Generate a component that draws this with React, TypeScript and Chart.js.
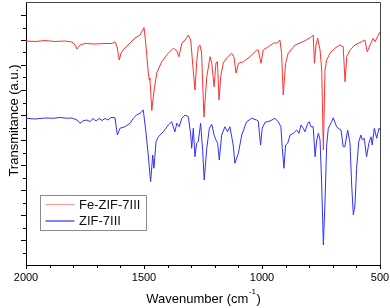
import React, { useEffect, useRef } from "react";
import { Chart, registerables } from "chart.js";

Chart.register(...registerables);

// ---- data ----
const seriesLabels = ["Fe-ZIF-7III", "ZIF-7III"];
const seriesColors = ["#ff3030", "#3030ff"];
const legendLineColors = ["#f4a0a0", "#3030ff"];

const feWn = [2000,1962,1920,1877,1835,1805,1792,1784,1771,1750,1708,1665,1636,1623,1614,1605,1597,1585,1559,1538,1517,1500,1494,1489,1483,1478,1475,1467,1462,1458,1446,1425,1397,1376,1361,1352,1340,1326,1312,1302,1294,1284,1277,1270,1263,1256,1246,1234,1220,1213,1203,1195,1189,1182,1175,1164,1150,1129,1119,1110,1100,1079,1051,1023,1016,1004,995,973,952,934,924,917,910,900,889,860,818,790,783,778,771,764,754,747,740,733,726,712,691,670,656,648,641,627,606,578,564,554,542,529,521,507,500];
const feT = [8.96,8.94,8.98,8.94,8.96,8.92,8.8,8.64,8.8,8.86,8.84,8.86,8.86,8.93,8.72,8.2,8.48,8.64,8.88,9.08,9.2,9.5,9.0,8.48,7.8,7.4,7.48,6.18,6.6,6.93,7.68,8.13,8.47,8.67,8.57,8.33,8.87,9.0,9.2,9.0,8.08,7.0,8.08,8.73,8.8,8.48,5.92,7.53,8.33,8.08,7.13,8.08,8.13,6.6,7.53,8.08,8.28,8.47,8.33,7.68,8.07,8.13,8.33,8.6,8.6,8.07,8.6,8.73,8.87,8.89,9.0,8.47,6.8,8.07,8.47,8.8,8.97,9.13,9.2,8.07,8.8,9.07,8.6,7.8,4.6,7.8,8.2,8.47,8.67,8.8,8.73,7.33,8.33,8.6,8.8,8.93,9.0,8.53,8.8,9.07,8.93,9.2,9.33];

const zifWn = [2000,1962,1920,1884,1856,1828,1805,1784,1771,1759,1743,1729,1716,1703,1691,1678,1665,1653,1640,1623,1613,1602,1581,1559,1545,1531,1517,1503,1492,1482,1472,1463,1458,1449,1439,1418,1397,1383,1369,1361,1351,1340,1326,1312,1302,1298,1291,1284,1277,1270,1260,1251,1245,1234,1223,1213,1203,1195,1188,1181,1171,1157,1146,1136,1122,1115,1100,1086,1065,1044,1023,1016,1006,999,987,966,945,931,920,914,907,900,891,881,867,853,843,835,825,818,806,800,792,783,775,768,761,754,747,740,733,726,719,705,698,684,677,665,656,649,637,627,620,613,606,599,590,581,575,567,557,547,538,533,524,514,504,500];
const zifT = [5.87,5.84,5.88,5.87,5.9,5.87,5.88,5.8,5.67,5.76,5.8,5.74,5.86,5.76,5.86,5.78,5.86,5.8,5.9,5.89,5.2,5.47,5.53,5.67,5.87,6.0,6.07,6.2,5.33,4.4,3.33,4.4,3.87,4.93,5.13,5.33,5.6,5.73,5.33,5.67,5.53,5.87,6.0,5.93,5.2,4.67,5.47,4.33,4.87,4.93,5.67,4.53,3.4,4.67,5.47,5.63,5.2,5.0,4.87,4.2,5.2,5.53,5.33,5.53,4.8,4.07,4.47,5.2,5.73,5.87,5.8,5.76,4.8,5.47,5.71,5.76,5.87,5.73,5.53,4.67,3.87,4.8,4.87,5.2,5.27,5.4,5.27,5.6,5.47,5.33,5.67,5.73,5.53,5.53,4.33,5.0,5.27,5.0,3.2,0.8,2.53,4.8,5.47,5.73,5.89,5.53,5.47,5.4,4.73,4.73,5.4,4.87,3.2,2.0,2.4,3.87,4.93,5.2,5.0,5.07,4.33,4.87,5.13,4.8,5.47,5.07,5.47,5.4];

const xMin = 500;
const xMax = 2000;
const xMajorStep = 500;
const xMinorStep = 100;
const yMin = 0;
const yMax = 10.52;
const yMajorTicks = [1, 2, 3, 4, 5, 6, 7, 8, 9, 10];
const yMinorTicks = [0.5, 1.5, 2.5, 3.5, 4.5, 5.5, 6.5, 7.5, 8.5, 9.5];
const xTitleMain = "Wavenumber (cm";
const xTitleSup = "-1";
const xTitleEnd = ")";
const yTitle = "Transmitance (a.u.)";

const FONT = "'Liberation Sans', Arial, sans-serif";

const decorPlugin = {
  id: "decor",
  afterDraw(chart: any) {
    const { ctx, chartArea: a, scales } = chart;
    const xs = scales.x;
    const ys = scales.y;
    ctx.save();
    // top & right frame
    ctx.strokeStyle = "#444";
    ctx.lineWidth = 1;
    ctx.beginPath();
    ctx.moveTo(a.left, a.top + 0.5);
    ctx.lineTo(a.right + 0.5, a.top + 0.5);
    ctx.lineTo(a.right + 0.5, a.bottom);
    ctx.stroke();

    // x tick marks
    ctx.strokeStyle = "#000";
    for (let v = xMin; v <= xMax; v += xMinorStep) {
      const px = Math.round(xs.getPixelForValue(v)) + 0.5;
      const len = v % xMajorStep === 0 ? 4 : 3;
      ctx.beginPath();
      ctx.moveTo(px, a.bottom);
      ctx.lineTo(px, a.bottom + len);
      ctx.stroke();
    }
    // y tick marks
    const drawY = (v: number, len: number) => {
      const py = Math.round(ys.getPixelForValue(v)) + 0.5;
      ctx.beginPath();
      ctx.moveTo(a.left, py);
      ctx.lineTo(a.left - len, py);
      ctx.stroke();
    };
    yMajorTicks.forEach((v) => drawY(v, 5));
    yMinorTicks.forEach((v) => drawY(v, 3));

    // axis titles
    ctx.fillStyle = "#000";
    ctx.font = `13px ${FONT}`;
    ctx.textBaseline = "alphabetic";
    const mainW = ctx.measureText(xTitleMain).width;
    ctx.font = `8px ${FONT}`;
    const supW = ctx.measureText(xTitleSup).width;
    ctx.font = `13px ${FONT}`;
    const endW = ctx.measureText(xTitleEnd).width;
    const total = mainW + supW + endW;
    const cx = (a.left + a.right) / 2;
    let sx = cx - total / 2;
    const baseY = a.bottom + 37.5;
    ctx.textAlign = "left";
    ctx.fillText(xTitleMain, sx, baseY);
    sx += mainW + 0.5;
    ctx.font = `8px ${FONT}`;
    ctx.fillText(xTitleSup, sx, baseY - 9);
    sx += supW + 0.5;
    ctx.font = `13px ${FONT}`;
    ctx.fillText(xTitleEnd, sx, baseY);

    ctx.save();
    ctx.translate(a.left - 8.5, (a.top + a.bottom) / 2 - 13);
    ctx.rotate(-Math.PI / 2);
    ctx.textAlign = "center";
    ctx.fillText(yTitle, 0, 0);
    ctx.restore();

    // legend box
    const lx = a.left + 14.5;
    const ly = a.top + 193.5;
    const lw = 106;
    const lh = 35;
    ctx.fillStyle = "#fff";
    ctx.fillRect(lx, ly, lw, lh);
    ctx.strokeStyle = "#8a8a8a";
    ctx.lineWidth = 1;
    ctx.strokeRect(lx, ly, lw, lh);
    chart.data.datasets.forEach((ds: any, i: number) => {
      const yy = ly + 9 + i * 16.5;
      ctx.strokeStyle = legendLineColors[i];
      ctx.lineWidth = 1.2;
      ctx.beginPath();
      ctx.moveTo(lx + 5, yy);
      ctx.lineTo(lx + 34, yy);
      ctx.stroke();
      ctx.fillStyle = "#111";
      ctx.font = `13px ${FONT}`;
      ctx.textAlign = "left";
      ctx.textBaseline = "middle";
      ctx.fillText(ds.label, lx + 38.5, yy + 0.5);
    });
    ctx.restore();
  },
};

export default function App() {
  const ref = useRef<HTMLCanvasElement | null>(null);
  useEffect(() => {
    if (!ref.current) return;
    const chart = new Chart(ref.current, {
      type: "line",
      data: {
        datasets: [
          {
            label: seriesLabels[0],
            data: feWn.map((x, i) => ({ x, y: feT[i] })),
            borderColor: seriesColors[0],
            borderWidth: 1,
            pointRadius: 0,
            tension: 0,
            fill: false,
          },
          {
            label: seriesLabels[1],
            data: zifWn.map((x, i) => ({ x, y: zifT[i] })),
            borderColor: seriesColors[1],
            borderWidth: 1,
            pointRadius: 0,
            tension: 0,
            fill: false,
          },
        ],
      },
      options: {
        animation: false,
        responsive: true,
        maintainAspectRatio: false,
        layout: { padding: { top: 2, right: 10, left: 0, bottom: 0 } },
        plugins: {
          legend: { display: false },
          tooltip: { enabled: false },
        },
        scales: {
          x: {
            type: "linear",
            reverse: true,
            min: xMin,
            max: xMax,
            grid: { display: false, drawTicks: false },
            border: { display: true, color: "#000", width: 1 },
            ticks: {
              stepSize: xMajorStep,
              color: "#000",
              padding: 6,
              maxRotation: 0,
              font: { family: FONT, size: 11 },
              callback: (v: any) => String(v),
            },
            afterFit: (s: any) => {
              s.height = 43;
              s.paddingLeft = 0;
              s.paddingRight = 0;
            },
          },
          y: {
            type: "linear",
            min: yMin,
            max: yMax,
            grid: { display: false, drawTicks: false },
            border: { display: true, color: "#000", width: 1 },
            ticks: { display: false },
            afterFit: (s: any) => {
              s.width = 26;
            },
          },
        },
      },
      plugins: [decorPlugin],
    });
    return () => chart.destroy();
  }, []);
  return (
    <div style={{ position: "fixed", left: 0, top: 0, width: 390, height: 308, background: "#fff" }}>
      <canvas ref={ref} />
    </div>
  );
}
